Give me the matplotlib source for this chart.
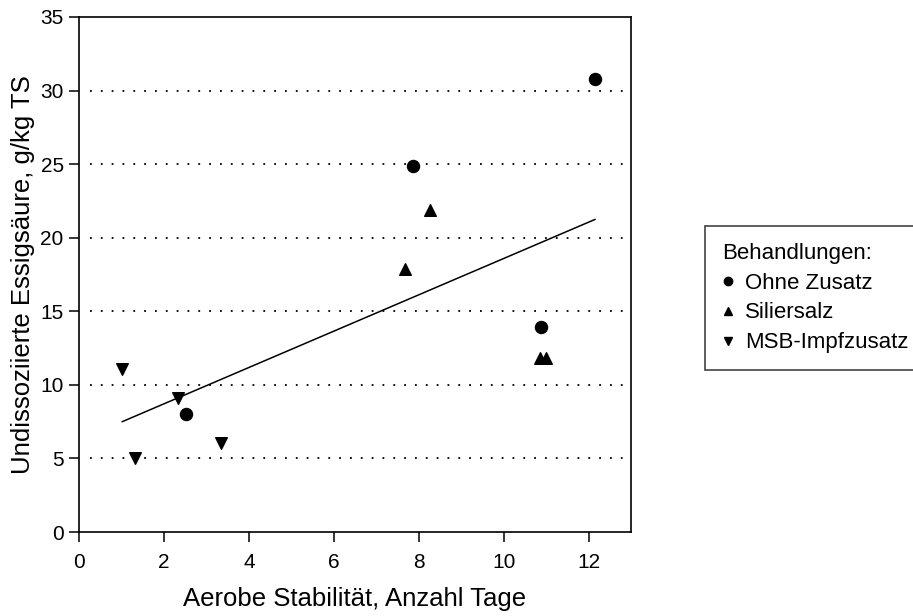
import matplotlib.pyplot as plt
from matplotlib.lines import Line2D

plt.rcParams["font.family"] = ["Liberation Sans", "DejaVu Sans"]

# Behandlungen (Aerobe Stabilität in Tagen, Essigsäure in g/kg TS)
ohne_x = [12.16, 7.86, 10.88, 2.51]
ohne_y = [30.8, 24.9, 13.9, 8.0]
salz_x = [8.26, 7.67, 10.85, 11.0]
salz_y = [21.85, 17.85, 11.85, 11.85]
msb_x = [1.02, 2.32, 1.33, 3.35]
msb_y = [11.1, 9.1, 5.0, 6.05]

# Regressionsgerade (Endpunkte)
line_x = [1.02, 12.15]
line_y = [7.5, 21.24]

x_ticks = [0, 2, 4, 6, 8, 10, 12]
y_ticks = [0, 5, 10, 15, 20, 25, 30, 35]
grid_levels = [5, 10, 15, 20, 25, 30]

fig = plt.figure(figsize=(9.13, 6.16), dpi=100)
ax = fig.add_axes([79 / 913, 84 / 616, 552 / 913, 515 / 616])

for lvl in grid_levels:
    ax.axhline(lvl, xmin=0.02, color="black", linestyle=(0, (1, 5)),
               linewidth=1.3, zorder=1)

ax.plot(line_x, line_y, color="black", linewidth=1.1, zorder=2)
ax.scatter(ohne_x, ohne_y, marker="o", s=75, color="black", zorder=3)
ax.scatter(salz_x, salz_y, marker="^", s=70, color="black", zorder=3)
ax.scatter(msb_x, msb_y, marker="v", s=70, color="black", zorder=3)

ax.set_xlim(0, 13)
ax.set_ylim(0, 35)
ax.set_xticks(x_ticks)
ax.set_yticks(y_ticks)
ax.tick_params(labelsize=15, direction="out", length=7, width=1.1)
ax.tick_params(axis="x", pad=8)
ax.tick_params(axis="y", pad=4)
ax.set_xlabel("Aerobe Stabilität, Anzahl Tage", fontsize=18.5, labelpad=11)
ax.set_ylabel("Undissoziierte Essigsäure, g/kg TS", fontsize=18.5, labelpad=4)
for sp in ax.spines.values():
    sp.set_linewidth(1.2)

handles = [
    Line2D([], [], marker="o", color="black", linestyle="none", markersize=6),
    Line2D([], [], marker="^", color="black", linestyle="none", markersize=6),
    Line2D([], [], marker="v", color="black", linestyle="none", markersize=6),
]
leg = fig.legend(handles, ["Ohne Zusatz", "Siliersalz", "MSB-Impfzusatz"],
                 title="Behandlungen:", loc="upper left",
                 bbox_to_anchor=(705 / 913, 1 - 226 / 616),
                 fontsize=16, title_fontsize=16, frameon=True, fancybox=False,
                 edgecolor="black", handletextpad=0.5, handlelength=0.55,
                 labelspacing=0.4, borderpad=0.75, borderaxespad=0)
leg._legend_box.align = "left"
leg.get_frame().set_linewidth(1.1)

fig.savefig("out.png", dpi=100)
